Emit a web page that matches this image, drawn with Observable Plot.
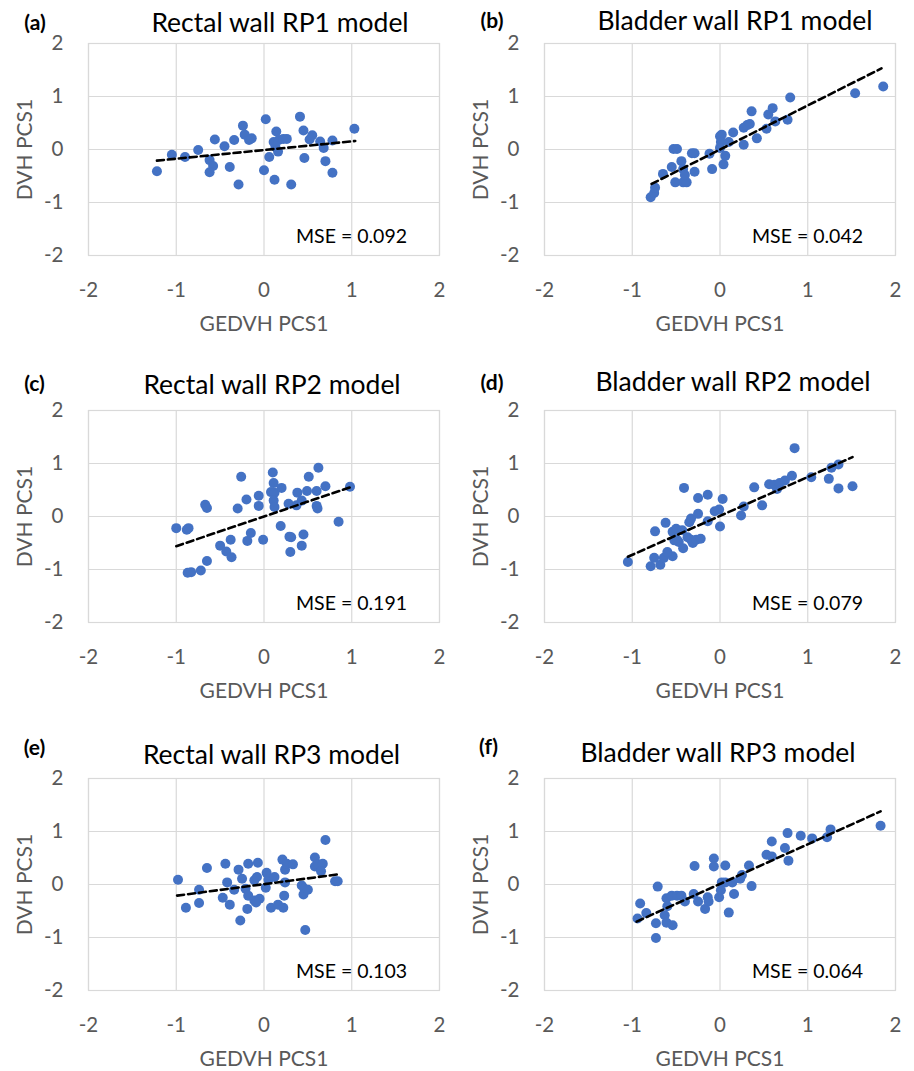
<!DOCTYPE html>
<html><head><meta charset="utf-8">
<script src="https://cdn.jsdelivr.net/npm/d3@7"></script>
<script src="https://cdn.jsdelivr.net/npm/@observablehq/plot@0.6"></script>
<style>
body{margin:0;background:#fff;font-family:Lato,sans-serif}
#root{position:relative;width:914px;height:1071px;overflow:hidden}
.panel{position:absolute}
</style></head><body><div id="root"></div>
<script>
// ---- data (GEDVH PCS1, DVH PCS1) ----
const tickValues = [-2, -1, 0, 1, 2];
const panelTags = ["(a)", "(b)", "(c)", "(d)", "(e)", "(f)"];
const panelTitles = ["Rectal wall RP1 model", "Bladder wall RP1 model", "Rectal wall RP2 model", "Bladder wall RP2 model", "Rectal wall RP3 model", "Bladder wall RP3 model"];
const mseLabels = ["MSE = 0.092", "MSE = 0.042", "MSE = 0.191", "MSE = 0.079", "MSE = 0.103", "MSE = 0.064"];
const xLabel = "GEDVH PCS1";
const yLabel = "DVH PCS1";

const rectalRP1 = [[-1.22,-0.41],[-1.05,-0.10],[-0.90,-0.14],[-0.75,-0.01],[-0.62,-0.20],[-0.58,-0.31],[-0.62,-0.43],[-0.56,0.19],[-0.45,0.06],[-0.39,-0.33],[-0.34,0.18],[-0.29,-0.66],[-0.24,0.45],[-0.22,0.28],[-0.17,0.18],[-0.14,0.21],[0.0,-0.39],[0.02,0.57],[0.06,-0.14],[0.11,0.14],[0.14,0.34],[0.12,-0.57],[0.16,-0.04],[0.17,0.18],[0.13,0.05],[0.22,0.20],[0.26,0.20],[0.31,-0.66],[0.41,0.62],[0.45,0.36],[0.46,-0.16],[0.52,0.19],[0.55,0.27],[0.64,0.15],[0.68,0.03],[0.70,-0.22],[0.78,0.17],[0.78,-0.44],[1.03,0.39]];
const bladderRP1 = [[-0.79,-0.90],[-0.75,-0.82],[-0.74,-0.72],[-0.65,-0.46],[-0.55,-0.33],[-0.53,0.01],[-0.49,0.01],[-0.51,-0.62],[-0.44,-0.22],[-0.42,-0.37],[-0.42,-0.62],[-0.38,-0.62],[-0.40,-0.48],[-0.32,-0.07],[-0.29,-0.07],[-0.29,-0.42],[-0.12,-0.08],[-0.09,-0.37],[0.0,0.25],[0.02,0.28],[0.01,0.14],[0.0,0.03],[0.06,-0.12],[0.04,-0.28],[0.15,0.32],[0.10,0.14],[0.27,0.41],[0.27,0.09],[0.31,0.46],[0.34,0.48],[0.36,0.72],[0.42,0.21],[0.53,0.39],[0.55,0.66],[0.60,0.78],[0.63,0.53],[0.77,0.56],[0.80,0.98],[1.54,1.06],[1.86,1.19]];
const rectalRP2 = [[-1.0,-0.22],[-0.88,-0.25],[-0.86,-0.22],[-0.87,-1.06],[-0.83,-1.05],[-0.72,-1.02],[-0.65,-0.84],[-0.67,0.22],[-0.65,0.16],[-0.50,-0.55],[-0.43,-0.66],[-0.38,-0.44],[-0.37,-0.77],[-0.30,0.15],[-0.26,0.75],[-0.20,0.32],[-0.19,-0.46],[-0.15,-0.31],[-0.06,0.39],[-0.06,0.20],[-0.01,-0.44],[0.10,0.83],[0.11,0.63],[0.08,0.46],[0.12,0.45],[0.20,0.54],[0.11,0.30],[0.12,0.18],[0.19,-0.18],[0.28,0.24],[0.29,-0.38],[0.31,-0.39],[0.30,-0.67],[0.38,0.45],[0.37,0.21],[0.43,0.30],[0.45,-0.34],[0.43,-0.55],[0.49,0.48],[0.51,0.75],[0.60,0.48],[0.60,0.20],[0.61,0.15],[0.62,0.92],[0.70,0.57],[0.85,-0.10],[0.98,0.56]];
const bladderRP2 = [[-1.05,-0.86],[-0.79,-0.94],[-0.75,-0.78],[-0.68,-0.91],[-0.64,-0.78],[-0.54,-0.75],[-0.60,-0.67],[-0.74,-0.28],[-0.62,-0.12],[-0.54,-0.29],[-0.50,-0.23],[-0.49,-0.44],[-0.47,-0.48],[-0.52,-0.45],[-0.42,-0.60],[-0.41,0.54],[-0.43,-0.26],[-0.37,-0.39],[-0.33,-0.44],[-0.31,-0.50],[-0.27,-0.44],[-0.22,-0.42],[-0.35,-0.11],[-0.33,-0.04],[-0.25,0.05],[-0.25,0.35],[-0.14,0.41],[-0.14,-0.09],[-0.06,0.10],[-0.01,0.13],[0.0,-0.19],[0.03,0.33],[0.24,0.02],[0.27,0.19],[0.39,0.55],[0.48,0.21],[0.56,0.61],[0.62,0.60],[0.65,0.52],[0.68,0.63],[0.74,0.68],[0.82,0.77],[0.85,1.29],[1.04,0.74],[1.24,0.71],[1.27,0.92],[1.35,0.98],[1.35,0.53],[1.51,0.57]];
const rectalRP3 = [[-0.98,0.09],[-0.89,-0.44],[-0.74,-0.10],[-0.74,-0.35],[-0.65,0.31],[-0.47,-0.25],[-0.44,0.39],[-0.42,0.04],[-0.39,-0.38],[-0.34,-0.10],[-0.29,0.28],[-0.27,-0.68],[-0.25,0.11],[-0.21,-0.08],[-0.19,-0.46],[-0.18,0.39],[-0.18,-0.21],[-0.11,0.08],[-0.08,0.14],[-0.11,-0.30],[-0.07,0.41],[-0.05,-0.27],[-0.09,-0.34],[0.03,0.22],[0.05,0.09],[0.02,-0.06],[0.12,0.14],[0.08,-0.44],[0.16,-0.38],[0.22,-0.44],[0.23,-0.21],[0.24,0.04],[0.21,0.47],[0.24,0.28],[0.26,0.39],[0.33,0.38],[0.43,-0.02],[0.46,-0.08],[0.45,-0.19],[0.50,-0.10],[0.47,-0.86],[0.58,0.51],[0.58,0.34],[0.62,0.38],[0.67,0.39],[0.65,0.25],[0.70,0.84],[0.81,0.06],[0.84,0.06]];
const bladderRP3 = [[-0.94,-0.64],[-0.91,-0.36],[-0.84,-0.54],[-0.73,-0.73],[-0.73,-1.01],[-0.71,-0.04],[-0.63,-0.58],[-0.61,-0.72],[-0.54,-0.77],[-0.60,-0.41],[-0.61,-0.26],[-0.55,-0.21],[-0.49,-0.21],[-0.44,-0.21],[-0.40,-0.32],[-0.30,-0.18],[-0.25,-0.32],[-0.29,0.35],[-0.17,-0.46],[-0.14,-0.24],[-0.13,-0.32],[-0.07,0.49],[-0.07,0.34],[-0.01,-0.24],[0.01,-0.11],[0.02,0.04],[0.06,0.36],[0.10,-0.53],[0.06,0.04],[0.14,0.04],[0.16,-0.18],[0.23,0.11],[0.25,0.18],[0.33,0.36],[0.36,-0.03],[0.53,0.56],[0.59,0.53],[0.59,0.81],[0.74,0.69],[0.78,0.45],[0.77,0.97],[0.92,0.92],[1.05,0.87],[1.22,0.89],[1.26,1.04],[1.83,1.11]];

// linear trendlines (endpoints)
const trendRectalRP1 = [[-1.22,-0.21],[1.04,0.16]];
const trendBladderRP1 = [[-0.78,-0.65],[1.84,1.53]];
const trendRectalRP2 = [[-1.0,-0.56],[0.98,0.55]];
const trendBladderRP2 = [[-1.05,-0.76],[1.51,1.12]];
const trendRectalRP3 = [[-0.99,-0.21],[0.84,0.19]];
const trendBladderRP3 = [[-0.95,-0.70],[1.83,1.38]];

const pointSets = [rectalRP1, bladderRP1, rectalRP2, bladderRP2, rectalRP3, bladderRP3];
const trendSets = [trendRectalRP1, trendBladderRP1, trendRectalRP2, trendBladderRP2, trendRectalRP3, trendBladderRP3];

// ---- layout (positions in px) ----
const layout = [
  {left: 0,   top: 0,   titleDx: 16,  titleDy: 20, tagX: 34.5, tagDy: 20.5},
  {left: 456, top: 0,   titleDx: 15,  titleDy: 22, tagX: 35.5, tagDy: 22},
  {left: 0,   top: 367, titleDx: 8,   titleDy: 25, tagX: 34,   tagDy: 26},
  {left: 456, top: 367, titleDx: 13,  titleDy: 28, tagX: 35.5, tagDy: 27},
  {left: 0,   top: 735, titleDx: 7.5, titleDy: 23, tagX: 34,   tagDy: 30.5},
  {left: 456, top: 735, titleDx: -2,  titleDy: 24.5, tagX: 32, tagDy: 31}
];

const W = 456, H = 335, ML = 88, MR = 17, MT = 43, MB = 80;
const fmt = d => String(d);
const root = document.getElementById("root");

pointSets.forEach((pts, i) => {
  const L = layout[i];
  const chart = Plot.plot({
    width: W, height: H,
    marginLeft: ML, marginRight: MR, marginTop: MT, marginBottom: MB,
    style: {fontFamily: "Lato, sans-serif", color: "#595959", background: "white", overflow: "visible"},
    x: {domain: [-2, 2]},
    y: {domain: [-2, 2]},
    marks: [
      Plot.gridX(tickValues, {stroke: "#d9d9d9", strokeOpacity: 1, strokeWidth: 1.2}),
      Plot.gridY(tickValues, {stroke: "#d9d9d9", strokeOpacity: 1, strokeWidth: 1.2}),
      Plot.frame({stroke: "#d9d9d9", strokeWidth: 1.2}),
      Plot.axisX({ticks: tickValues, tickSize: 0, tickPadding: 27, tickFormat: fmt, fontSize: 20.5, label: null}),
      Plot.axisY({ticks: tickValues, tickSize: 0, tickPadding: 25, tickFormat: fmt, fontSize: 20.5, label: null}),
      Plot.dot(pts, {x: d => d[0], y: d => d[1], r: 5, fill: "#4472C4", stroke: "none"}),
      Plot.line(trendSets[i], {x: d => d[0], y: d => d[1], stroke: "black", strokeWidth: 2.6, strokeDasharray: "7,4"}),
      Plot.text([mseLabels[i]], {text: d => d, frameAnchor: "bottom-right", textAnchor: "middle", lineAnchor: "middle", dx: -88, dy: -19, fontSize: 19.5, fill: "black"}),
      Plot.text([panelTitles[i]], {text: d => d, frameAnchor: "top", textAnchor: "middle", lineAnchor: "middle", dx: L.titleDx, dy: -L.titleDy, fontSize: 26.5, fill: "black"}),
      Plot.text([panelTags[i]], {text: d => d, frameAnchor: "top-left", textAnchor: "middle", lineAnchor: "middle", dx: L.tagX - ML, dy: -L.tagDy, fontSize: 21, fontWeight: "bold", fill: "black"}),
      Plot.text([xLabel], {text: d => d, frameAnchor: "bottom", textAnchor: "middle", lineAnchor: "middle", dy: 69, fontSize: 21, fill: "#595959"}),
      Plot.text([yLabel], {text: d => d, frameAnchor: "left", textAnchor: "middle", lineAnchor: "middle", rotate: -90, dx: 25 - ML, fontSize: 21, fill: "#595959"})
    ]
  });
  const div = document.createElement("div");
  div.className = "panel";
  div.style.left = L.left + "px";
  div.style.top = L.top + "px";
  div.appendChild(chart);
  root.appendChild(div);
});
</script>
</body></html>
